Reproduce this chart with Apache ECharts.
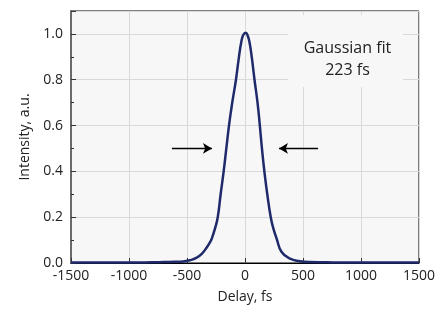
<!DOCTYPE html>
<html>
<head>
<meta charset="utf-8">
<script src="https://cdn.jsdelivr.net/npm/echarts@6/dist/echarts.min.js"></script>
<style>
  html, body { margin: 0; padding: 0; background: #fff; }
  #chart { width: 443px; height: 309px; }
</style>
</head>
<body>
<div id="chart"></div>
<script>
// delay (fs) and normalised autocorrelation intensity
var delay = [-1500, -1200, -1000, -800, -700, -600, -534, -474, -420, -373, -330, -300, -287, -259, -235, -210,
  -184, -161, -138, -110, -78, -52, -30, -15, 5, 25, 40, 58, 82, 108, 128, 146, 167, 192, 222, 245, 273, 316,
  388, 474, 550, 700, 850, 1000, 1200, 1500];
var intensity = [0.002, 0.002, 0.002, 0.003, 0.004, 0.005, 0.007, 0.012, 0.022, 0.04, 0.068, 0.092, 0.106, 0.15, 0.2, 0.3,
  0.4, 0.5, 0.6, 0.7, 0.8, 0.9, 0.97, 0.995, 1.005, 0.99, 0.96, 0.9, 0.8, 0.7, 0.6, 0.5, 0.4, 0.3, 0.2, 0.15, 0.106, 0.048,
  0.019, 0.008, 0.004, 0.003, 0.002, 0.002, 0.002, 0.002];

// FWHM arrows (x from, x to) at half height
var arrowLeft = [-630, -285];
var arrowRight = [630, 293];
var arrowY = 0.5;

var fitLabel = ['Gaussian fit', '223 fs'];

var points = delay.map(function (d, i) { return [d, intensity[i]]; });

var chart = echarts.init(document.getElementById('chart'));
var font = 'Open Sans';

chart.setOption({
  backgroundColor: '#fff',
  animation: false,
  grid: {
    left: 71, right: 24, top: 11, bottom: 44.5,
    show: true,
    backgroundColor: '#f7f7f7',
    borderColor: '#000',
    borderWidth: 1
  },
  xAxis: {
    type: 'value',
    min: -1500, max: 1500, interval: 500,
    name: 'Delay, fs',
    nameLocation: 'middle',
    nameGap: 27,
    nameTextStyle: { fontFamily: font, fontSize: 14, color: '#222' },
    axisLine: { show: true, onZero: false, lineStyle: { color: '#000', width: 1 } },
    axisTick: { show: true, inside: true, length: 5, lineStyle: { color: '#333' } },
    axisLabel: {
      fontFamily: font, fontSize: 14, color: '#222', margin: 6,
      formatter: function (v) { return String(v); }
    },
    splitLine: { show: true, lineStyle: { color: '#d9d9d9', width: 1 } }
  },
  yAxis: {
    type: 'value',
    min: 0, max: 1.1, interval: 0.2,
    name: 'Intensity, a.u.',
    nameLocation: 'middle',
    nameGap: 38,
    nameTextStyle: { fontFamily: font, fontSize: 14, color: '#222' },
    axisLine: { show: true, onZero: false, lineStyle: { color: '#6b6b6b', width: 2 } },
    axisTick: { show: true, inside: true, length: 5, lineStyle: { color: '#333' } },
    minorTick: { show: true, splitNumber: 2, length: 3, lineStyle: { color: '#333' } },
    axisLabel: {
      fontFamily: font, fontSize: 14, color: '#222', margin: 8,
      showMaxLabel: false,
      formatter: function (v) { return v > 1.05 ? '' : v.toFixed(1); }
    },
    splitLine: { show: true, lineStyle: { color: '#d9d9d9', width: 1 } }
  },
  graphic: [
    {
      type: 'rect',
      shape: { x: 288, y: 15, width: 115, height: 72 },
      style: { fill: '#f7f7f7' },
      z: 10
    },
    {
      type: 'text',
      x: 347.5, y: 59,
      style: {
        text: fitLabel.join('\n'),
        font: '16px "Open Sans"',
        fill: '#222',
        align: 'center',
        verticalAlign: 'middle',
        lineHeight: 22
      },
      z: 11
    }
  ],
  series: [{
    type: 'line',
    data: points,
    showSymbol: false,
    smooth: 0.5,
    lineStyle: { color: '#1f2a6b', width: 2.5 },
    z: 5,
    markLine: {
      silent: true,
      symbol: ['none', 'arrow'],
      symbolSize: [8, 9],
      label: { show: false },
      lineStyle: { color: '#000', width: 1.3, type: 'solid' },
      data: [
        [{ coord: [arrowLeft[0], arrowY] }, { coord: [arrowLeft[1], arrowY] }],
        [{ coord: [arrowRight[0], arrowY] }, { coord: [arrowRight[1], arrowY] }]
      ]
    }
  }]
});
</script>
</body>
</html>
